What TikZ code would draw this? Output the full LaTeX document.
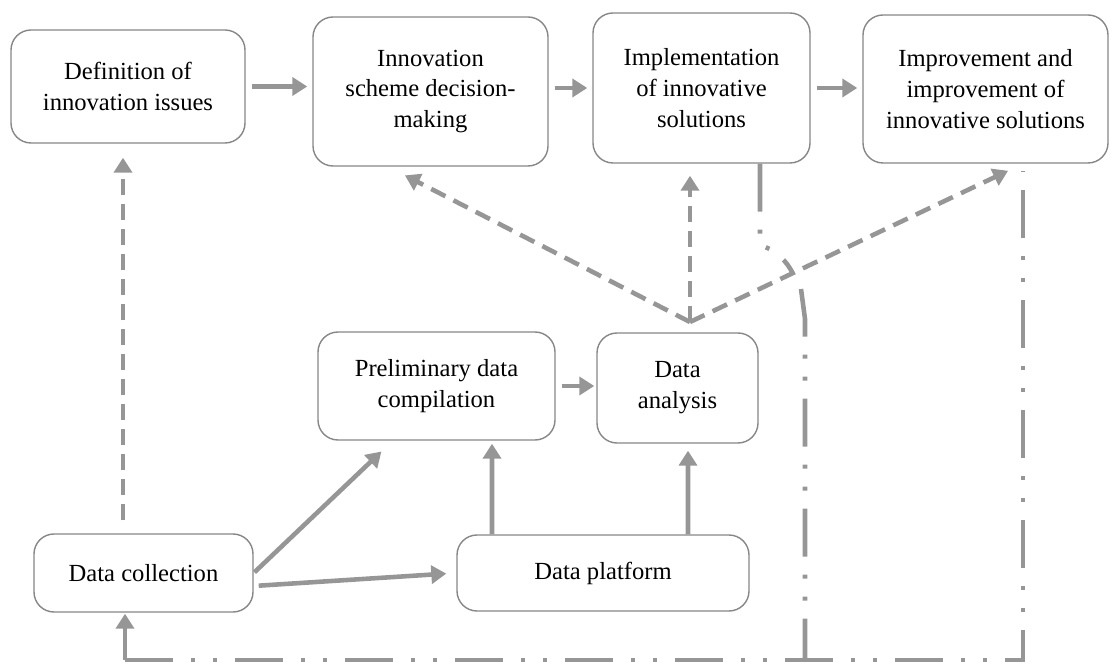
\documentclass[tikz,border=0pt]{standalone}
\usepackage{fontspec}
\setmainfont{Liberation Serif}
\usetikzlibrary{arrows.meta}
\definecolor{flowgray}{RGB}{150,150,150}
\definecolor{framegray}{RGB}{135,135,135}
\tikzset{
  stage/.style={draw=framegray, line width=0.8pt, rounded corners=0.4cm, fill=white,
    align=center, inner sep=2pt, font=\fontsize{14}{17.6}\selectfont},
  flow/.style={draw=flowgray, line width=2.6pt, -{Triangle[length=0.3cm,width=0.36cm]},
    shorten <=0.12cm, shorten >=0.1cm},
  feed/.style={flow, dash pattern=on 0.32cm off 0.18cm},
  loopline/.style={draw=flowgray, line width=2.6pt,
    dash pattern=on 0.96cm off 0.36cm on 0.08cm off 0.36cm on 0.08cm off 0.36cm}
}
\begin{document}
\begin{tikzpicture}
  %\draw[help lines] (0,0) grid (22,13);
  \useasboundingbox (0,0) rectangle (22.2,13.28);
  \node[stage, minimum width=4.68cm, minimum height=2.26cm] (defn) at (2.56, 11.55)
    {Definition of\\innovation issues};
  \node[stage, minimum width=4.7cm, minimum height=2.98cm] (innov) at (8.61, 11.45)
    {Innovation\\scheme decision-\\making};
  \node[stage, minimum width=4.34cm, minimum height=3cm] (impl) at (14.03, 11.52)
    {Implementation\\of innovative\\solutions};
  \node[stage, minimum width=4.9cm, minimum height=2.96cm] (impr) at (19.71, 11.5)
    {Improvement and\\improvement of\\innovative solutions};
  \node[stage, minimum width=4.74cm, minimum height=2.16cm] (prelim) at (8.73, 5.56)
    {Preliminary data\\compilation};
  \node[stage, minimum width=3.22cm, minimum height=2.2cm] (anal) at (13.55, 5.52)
    {Data\\analysis};
  \node[stage, minimum width=4.38cm, minimum height=1.56cm] (coll) at (2.87, 1.82)
    {Data collection};
  \node[stage, minimum width=5.84cm, minimum height=1.52cm] (plat) at (12.06, 1.82)
    {Data platform};

  % main chain
  \draw[flow] (defn.east) -- (defn.east -| innov.west);
  \draw[flow] (impl.west -| innov.east) -- (impl.west);
  \draw[flow] (impl.east) -- (impl.east -| impr.west);
  \draw[flow, shorten >=0.04cm] (prelim.east) -- (prelim.east -| anal.west);

  % data side
  \draw[flow, shorten <=0.02cm, shorten >=0.14cm] (coll.east) -- ([xshift=-1.0cm,yshift=-0.12cm]prelim.south);
  \draw[flow, shorten <=0.1cm, shorten >=0.2cm] ([yshift=-0.26cm]coll.east) -- (plat.west);
  \draw[flow, shorten <=0pt, shorten >=0.06cm] ([xshift=-2.22cm]plat.north) -- ([xshift=1.11cm]prelim.south);
  \draw[flow, shorten <=0pt, shorten >=0.14cm] ([xshift=1.7cm]plat.north) -- ([xshift=0.21cm]anal.south);
  \draw[feed, shorten <=0.26cm, shorten >=0.28cm] ([xshift=-0.41cm]coll.north) -- ([xshift=-0.1cm]defn.south);

  % feedback from analysis
  \coordinate (hub) at (13.8, 6.84);
  \draw[feed, shorten <=0pt, shorten >=0.38cm] (hub) -- ([xshift=-0.85cm]innov.south);
  \draw[feed, shorten <=0pt, shorten >=0.24cm] (hub) -- (hub |- impl.south);
  \draw[feed, shorten <=0pt, shorten >=0.33cm] (hub) -- ([xshift=0.75cm]impr.south);

  % loop back to data collection
  \draw[loopline] ([xshift=1.17cm]impl.south) -- ++(0,-1.64)
    .. controls +(0.3,-0.05) and +(-0.1,0.2) .. (15.84, 7.84)
    (16.02, 7.5) -- (16.1, 6.9) -- (16.1, 0.08);
  \coordinate (back) at (2.5, 0.08);
  \draw[loopline] (back) -| ([xshift=0.75cm,yshift=-0.14cm]impr.south);
  \draw[flow, shorten <=0pt, shorten >=0.02cm] (back) -- (back |- coll.south);
\end{tikzpicture}
\end{document}
